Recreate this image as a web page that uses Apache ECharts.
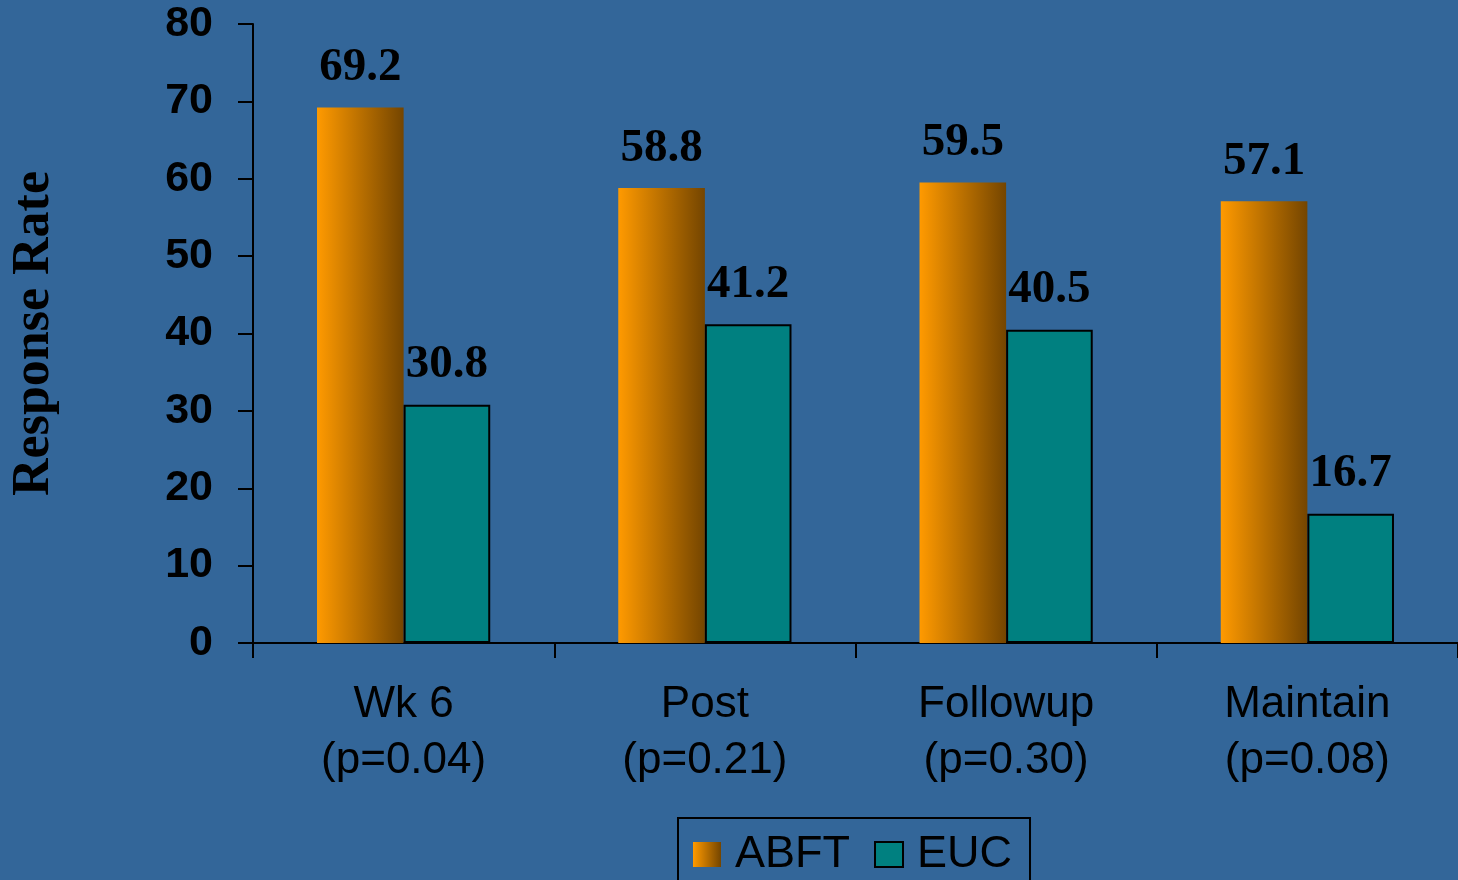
<!DOCTYPE html>
<html>
<head>
<meta charset="utf-8">
<title>Response Rate</title>
<script src="https://cdn.jsdelivr.net/npm/echarts@6/dist/echarts.min.js"></script>
<style>
  html, body { margin: 0; padding: 0; background: #336699; }
  #chart { width: 1458px; height: 880px; }
</style>
</head>
<body>
<div id="chart"></div>
<script>
// Assessment points and their p-values
const categories = ['Wk 6', 'Post', 'Followup', 'Maintain'];
const pValues = ['0.04', '0.21', '0.30', '0.08'];

// Response rates (%) per group
const abftValues = [69.2, 58.8, 59.5, 57.1];
const eucValues = [30.8, 41.2, 40.5, 16.7];

// Y axis range
const yMin = 0;
const yMax = 80;
const yStep = 10;

const axisLabels = categories.map((c, i) => c + '\n(p=' + pValues[i] + ')');

const chart = echarts.init(document.getElementById('chart'), null, { renderer: 'canvas' });

const valueLabel = {
  show: true,
  position: 'top',
  distance: 16,
  fontFamily: '"Liberation Serif", "Times New Roman", serif',
  fontWeight: 'bold',
  fontSize: 47,
  color: '#000',
  formatter: p => p.value.toFixed(1)
};

chart.setOption({
  backgroundColor: '#336699',
  animation: false,
  grid: { left: 253, width: 1210, top: 24, bottom: 237, containLabel: false },
  legend: {
    left: 678,
    top: 818,
    padding: [14, 18, 14, 15],
    borderColor: '#000',
    borderWidth: 2,
    icon: 'rect',
    itemWidth: 28,
    itemHeight: 25,
    itemGap: 24,
    textStyle: {
      fontFamily: '"Liberation Sans", Arial, sans-serif',
      fontSize: 45,
      color: '#000',
      padding: [0, 0, 0, 9]
    },
    data: ['ABFT', 'EUC']
  },
  xAxis: {
    type: 'category',
    data: axisLabels,
    axisLine: { lineStyle: { color: '#000', width: 2 } },
    axisTick: { show: true, length: 15, lineStyle: { color: '#000', width: 2 } },
    axisLabel: {
      margin: 34,
      fontFamily: '"Liberation Sans", Arial, sans-serif',
      fontSize: 44,
      lineHeight: 56,
      color: '#000'
    }
  },
  yAxis: {
    type: 'value',
    min: yMin,
    max: yMax,
    interval: yStep,
    name: 'Response Rate',
    nameLocation: 'middle',
    nameGap: 192,
    nameTextStyle: {
      fontFamily: '"Liberation Serif", "Times New Roman", serif',
      fontWeight: 'bold',
      fontSize: 52,
      color: '#000'
    },
    splitLine: { show: false },
    axisLine: { show: true, lineStyle: { color: '#000', width: 2 } },
    axisTick: { show: true, length: 15, lineStyle: { color: '#000', width: 2 } },
    axisLabel: {
      margin: 40,
      fontFamily: '"Liberation Sans", Arial, sans-serif',
      fontWeight: 'bold',
      fontSize: 43,
      color: '#000'
    }
  },
  series: [
    {
      name: 'ABFT',
      type: 'bar',
      data: abftValues,
      barGap: '0%',
      barCategoryGap: '42.5%',
      itemStyle: {
        color: {
          type: 'linear', x: 0, y: 0, x2: 1, y2: 0,
          colorStops: [
            { offset: 0, color: '#FF9A00' },
            { offset: 1, color: '#744500' }
          ]
        }
      },
      label: valueLabel
    },
    {
      name: 'EUC',
      type: 'bar',
      data: eucValues,
      itemStyle: { color: '#008080', borderColor: '#000', borderWidth: 2 },
      label: valueLabel
    }
  ]
});
</script>
</body>
</html>
